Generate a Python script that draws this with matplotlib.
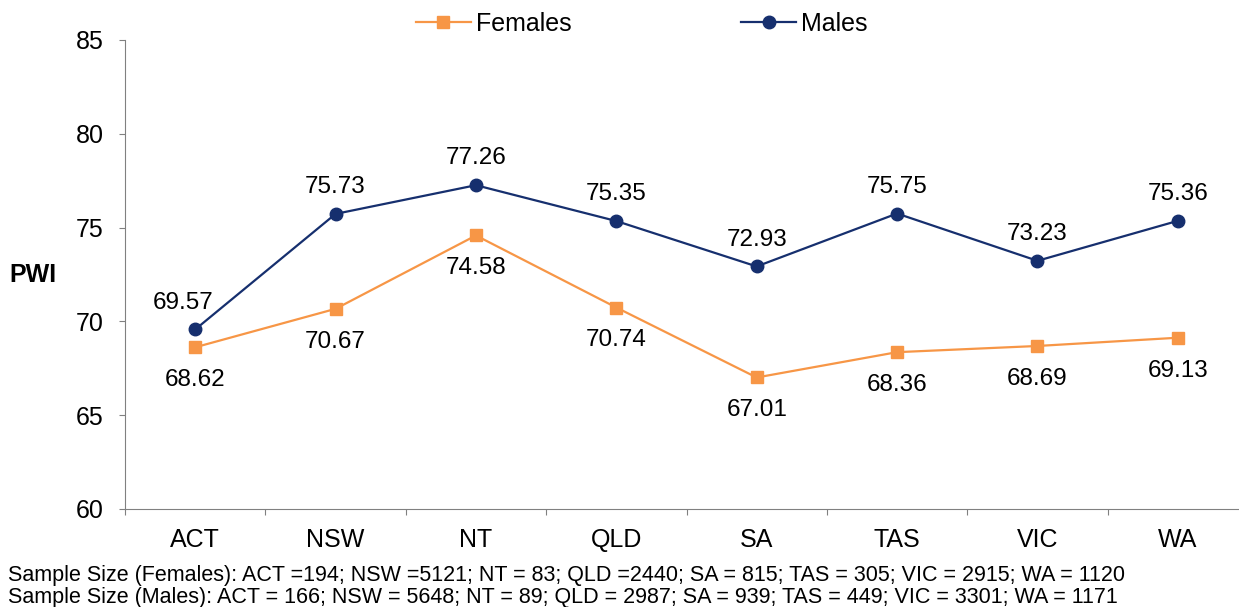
import numpy as np
import matplotlib.pyplot as plt

# data
states = ['ACT', 'NSW', 'NT', 'QLD', 'SA', 'TAS', 'VIC', 'WA']
females = [68.62, 70.67, 74.58, 70.74, 67.01, 68.36, 68.69, 69.13]
males = [69.57, 75.73, 77.26, 75.35, 72.93, 75.75, 73.23, 75.36]
note_f = 'Sample Size (Females): ACT =194; NSW =5121; NT = 83; QLD =2440; SA = 815; TAS = 305; VIC = 2915; WA = 1120'
note_m = 'Sample Size (Males): ACT = 166; NSW = 5648; NT = 89; QLD = 2987; SA = 939; TAS = 449; VIC = 3301; WA = 1171'

plt.rcParams['font.family'] = ['Liberation Sans', 'DejaVu Sans']

orange = '#F79646'
navy = '#162F6E'

fig = plt.figure(figsize=(12.39, 6.07), dpi=100)
W, H = 1239, 607
ax = fig.add_axes([125 / W, 1 - 509 / H, (1248 - 125) / W, (509 - 40) / H])

x = np.arange(len(states))
ax.plot(x, females, color=orange, lw=1.6, marker='s', ms=9, label='Females', zorder=3)
ax.plot(x, males, color=navy, lw=1.6, marker='o', ms=9, label='Males', zorder=3)

# value labels: males above the line, females below
for i, v in enumerate(males):
    dx = -9 if i == 0 else 0
    ax.annotate('%.2f' % v, (x[i], v), xytext=(dx, 15), textcoords='offset points',
                ha='center', va='baseline', fontsize=17.5)
for i, v in enumerate(females):
    ax.annotate('%.2f' % v, (x[i], v), xytext=(0, -28), textcoords='offset points',
                ha='center', va='baseline', fontsize=17.5)

ax.set_ylim(60, 85)
ax.set_yticks(np.arange(60, 86, 5))
ax.set_xlim(-0.5, len(states) - 0.5)
ax.set_xticks(np.arange(-0.5, len(states), 1.0))
ax.set_xticklabels([])
ax.set_xticks(x, minor=True)
ax.set_xticklabels(states, minor=True)
ax.tick_params(axis='x', which='major', direction='out', length=4.5, color='#808080')
ax.tick_params(axis='x', which='minor', length=0, labelsize=18, pad=14)
ax.tick_params(axis='y', direction='out', length=4.5, color='#808080', labelsize=18, pad=11)

for s in ['top', 'right']:
    ax.spines[s].set_visible(False)
ax.spines['left'].set_color('#808080')
ax.spines['bottom'].set_color('#808080')

ax.set_ylabel('PWI', rotation=0, fontsize=18, fontweight='bold', va='center')
ax.yaxis.set_label_coords(-92 / (1248 - 125), 0.50)

fig.legend(loc='center', bbox_to_anchor=(0.518, 1 - 24 / H), ncol=2, frameon=False,
           fontsize=18, columnspacing=6.8, handlelength=2.2, handletextpad=0.2)

fig.text(8 / W, 1 - 575 / H, note_f, fontsize=15.5, va='center')
fig.text(8 / W, 1 - 597 / H, note_m, fontsize=15.5, va='center')

fig.savefig('out.png', dpi=100)
